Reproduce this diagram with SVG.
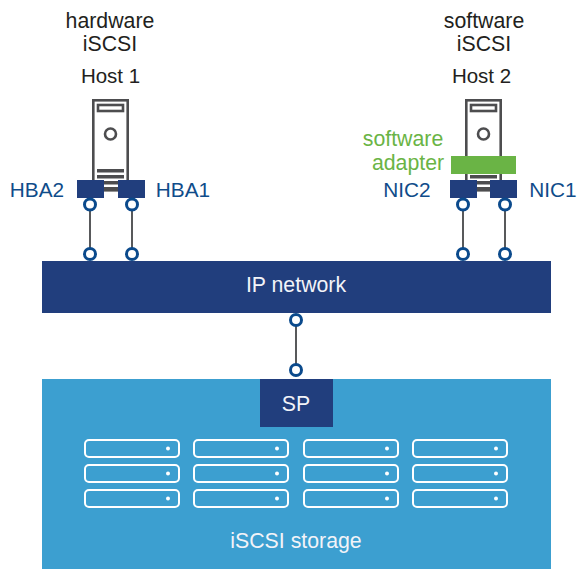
<svg xmlns="http://www.w3.org/2000/svg" width="577" height="569" viewBox="0 0 577 569">
<style>
text{font-family:"Liberation Sans",Arial,sans-serif;font-size:21.300px;text-anchor:middle}
text.h{font-size:20.500px}
text.n{font-size:20.800px}
.k{fill:#231f20}
.b{fill:#0f4c8a}
.g{fill:#6ab445}
.w{fill:#f2f3f8}
.navy{fill:#213e7d}
.ln{stroke:#58595b;stroke-width:2;fill:none}
.pt{fill:#fff;stroke:#0b4a8c;stroke-width:3}
.sv{fill:#fff;stroke:#4d4d4f;stroke-width:2.600}
.sd{fill:#4d4d4f}
.dr{fill:none;stroke:#fff;stroke-width:2}
.dot{fill:#fff}
</style>
<defs>
<g id="server">
<rect class="sv" x="1.300" y="1.300" width="34.400" height="90"/>
<rect class="sv" x="6" y="6" width="25" height="6"/>
<circle cx="18.500" cy="35" r="5.500" fill="#fff" stroke="#4d4d4f" stroke-width="2.600"/>
<rect class="sd" x="5" y="70" width="27" height="3.500"/>
<rect class="sd" x="5" y="76" width="27" height="3.500"/>
<rect class="sd" x="5" y="82" width="27" height="3.500"/>
<rect class="sd" x="5" y="88" width="27" height="2"/>
</g>
<g id="drive">
<rect class="dr" x="1" y="1" width="94" height="17" rx="4"/>
<circle class="dot" cx="84" cy="9.500" r="2"/>
</g>
</defs>
<g id="host1">
<text class="k" x="110" y="28">hardware</text>
<text class="k" x="110" y="51">iSCSI</text>
<text class="k h" x="110.500" y="83">Host 1</text>
<use href="#server" x="92" y="99"/>
</g>
<g id="hba2">
<rect class="navy" x="77" y="180" width="27" height="18"/>
<text class="b n" x="37" y="197">HBA2</text>
</g>
<g id="hba1">
<rect class="navy" x="118" y="180" width="27" height="18"/>
<text class="b n" x="183" y="197">HBA1</text>
</g>
<g id="host2">
<text class="k" x="484" y="28">software</text>
<text class="k" x="484" y="51">iSCSI</text>
<text class="k h" x="481.500" y="83">Host 2</text>
<use href="#server" x="465" y="99"/>
</g>
<g id="software-adapter">
<rect class="g" x="451" y="156" width="65" height="18"/>
<text class="g" x="403" y="146">software</text>
<text class="g" x="408" y="170">adapter</text>
</g>
<g id="nic2">
<rect class="navy" x="450" y="180" width="27" height="18"/>
<text class="b n" x="407" y="197">NIC2</text>
</g>
<g id="nic1">
<rect class="navy" x="490" y="180" width="27" height="18"/>
<text class="b n" x="553" y="197">NIC1</text>
</g>
<g id="ip-network">
<rect class="navy" x="42" y="261" width="509" height="52"/>
<text class="w" x="296" y="292">IP network</text>
</g>
<g id="iscsi-storage">
<rect x="42" y="379" width="509" height="190" fill="#3c9fd0"/>
<text class="w" x="296" y="548">iSCSI storage</text>
<use href="#drive" x="84" y="439"/>
<use href="#drive" x="84" y="464"/>
<use href="#drive" x="84" y="489"/>
<use href="#drive" x="193" y="439"/>
<use href="#drive" x="193" y="464"/>
<use href="#drive" x="193" y="489"/>
<use href="#drive" x="303" y="439"/>
<use href="#drive" x="303" y="464"/>
<use href="#drive" x="303" y="489"/>
<use href="#drive" x="412" y="439"/>
<use href="#drive" x="412" y="464"/>
<use href="#drive" x="412" y="489"/>
</g>
<g id="sp">
<rect class="navy" x="260" y="379" width="73" height="48"/>
<text class="w" x="296" y="411">SP</text>
</g>
<g id="connectors">
<path class="ln" d="M90 204V254M132 204V254M463 204V254M505 204V254M296 320V370"/>
<circle class="pt" cx="90" cy="204.500" r="5.500"/>
<circle class="pt" cx="90" cy="254" r="5.500"/>
<circle class="pt" cx="132" cy="204.500" r="5.500"/>
<circle class="pt" cx="132" cy="254" r="5.500"/>
<circle class="pt" cx="463" cy="204.500" r="5.500"/>
<circle class="pt" cx="463" cy="254" r="5.500"/>
<circle class="pt" cx="505" cy="204.500" r="5.500"/>
<circle class="pt" cx="505" cy="254" r="5.500"/>
<circle class="pt" cx="296" cy="320" r="5.500"/>
<circle class="pt" cx="296" cy="370" r="5.500"/>
</g>
</svg>
